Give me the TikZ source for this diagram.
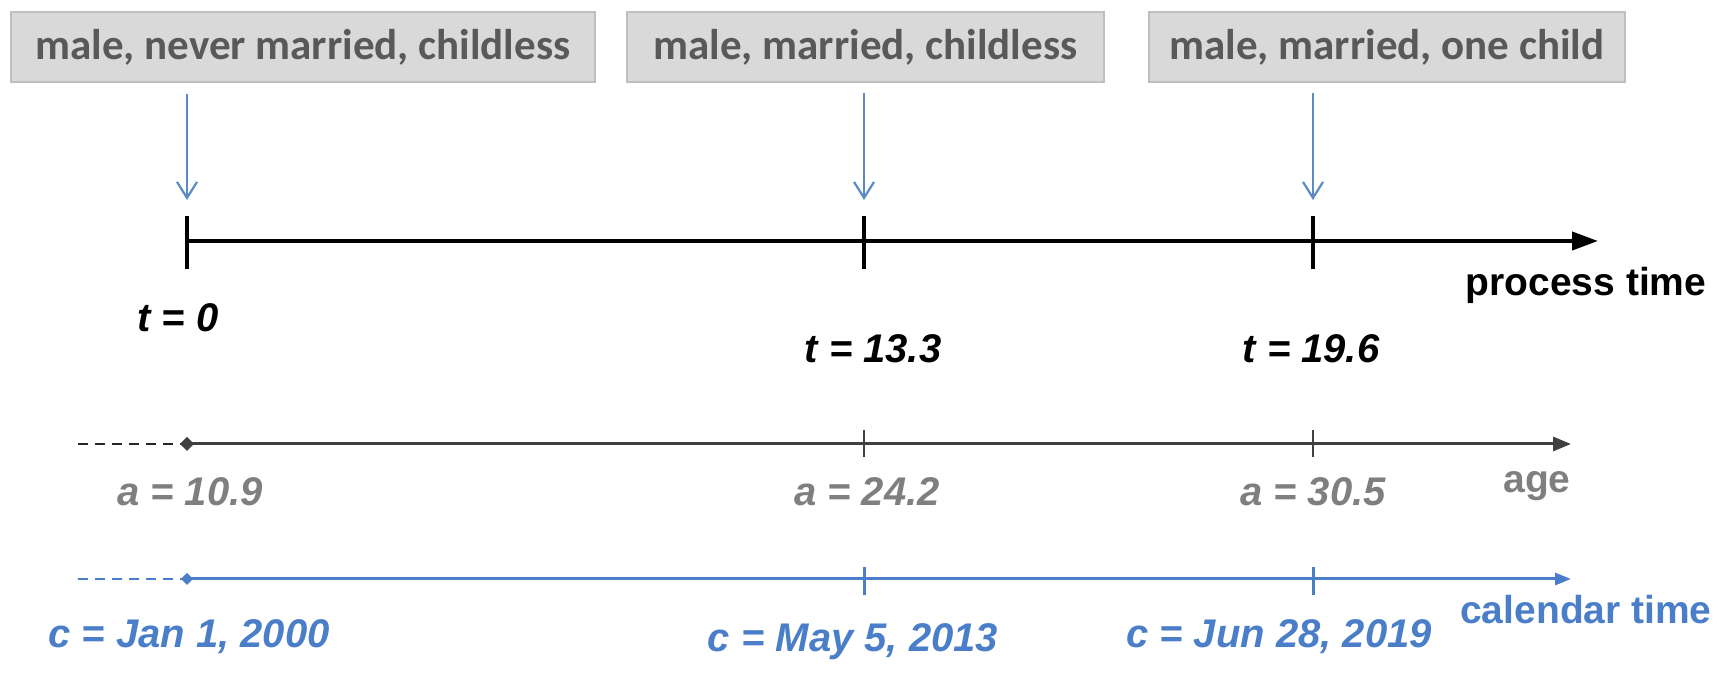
\documentclass[tikz,border=0pt]{standalone}
\usepackage{fontspec}
\setmainfont{Liberation Sans}
\newfontfamily\boxfont{Carlito}
\usetikzlibrary{arrows.meta}
\definecolor{boxfill}{HTML}{D9D9D9}
\definecolor{boxline}{HTML}{BFBFBF}
\definecolor{boxtext}{HTML}{595959}
\definecolor{evblue}{HTML}{5B8BC4}
\definecolor{calblue}{HTML}{4A7EC8}
\definecolor{agegray}{HTML}{404040}
\definecolor{labgray}{HTML}{7F7F7F}
\begin{document}
\begin{tikzpicture}[x=0.5pt,y=-0.5pt,
  statebox/.style={draw=boxline, line width=1pt, fill=boxfill, minimum height=35pt, inner sep=0pt,
    font=\boxfont\bfseries\fontsize{21.5}{24}\selectfont, text=boxtext},
  evarrow/.style={draw=evblue, line width=1.1pt, -{Straight Barb[length=8pt,width=10pt,line width=1.1pt]}},
  procline/.style={draw=black, line width=2pt, -{Triangle[length=13pt,width=9pt]}},
  proctick/.style={draw=black, line width=2pt},
  ageline/.style={draw=agegray, line width=1.5pt, -{Triangle[length=9pt,width=7pt]}},
  agetick/.style={draw=agegray, line width=1pt},
  agedash/.style={draw=black!85, line width=1pt, dash pattern=on 5pt off 3.5pt},
  calline/.style={draw=calblue, line width=1.5pt, -{Triangle[length=8pt,width=6pt]}},
  caltick/.style={draw=calblue, line width=1.5pt},
  caldash/.style={draw=calblue, line width=1pt, dash pattern=on 5pt off 3.5pt},
  tlab/.style={font=\bfseries\itshape\fontsize{20}{24}\selectfont, text=black, inner sep=0pt},
  alab/.style={font=\bfseries\itshape\fontsize{20}{24}\selectfont, text=labgray, inner sep=0pt},
  clab/.style={font=\bfseries\itshape\fontsize{20}{24}\selectfont, text=calblue, inner sep=0pt},
  axname/.style={font=\bfseries\fontsize{19.5}{24}\selectfont, inner sep=0pt}
]
\useasboundingbox (0,0) rectangle (1721,689);

% state boxes
\node[statebox, minimum width=292pt] (b1) at (303,47) {male, never married, childless};
\node[statebox, minimum width=238.5pt] (b2) at (865.5,47.5) {male, married, childless};
\node[statebox, minimum width=238pt] (b3) at (1387,47.5) {male, married, one child};

% process time axis
\coordinate (P0) at (187,241);
\coordinate (P1) at (864,241);
\coordinate (P2) at (1313,241);
\coordinate (Pend) at (1598,241);
\draw[procline] (P0) -- (Pend);
\foreach \p in {P0,P1,P2} {\draw[proctick] ([yshift=12.5pt]\p) -- ([yshift=-14pt]\p);}

% event arrows
\draw[evarrow] ([yshift=-5.5pt]b1.south -| P0) -- ([yshift=20.5pt]P0);
\draw[evarrow] ([yshift=-5pt]b2.south -| P1) -- ([yshift=20.5pt]P1);
\draw[evarrow] ([yshift=-5pt]b3.south -| P2) -- ([yshift=20.5pt]P2);

\node[axname, text=black] (pt) at (1586,285) {process time};
\node[tlab] (t0) at (178,318) {t = 0};
\node[tlab] (t1) at (873,349) {t = 13.3};
\node[tlab] (t2) at (1311,349) {t = 19.6};

% age axis
\coordinate (A-1) at (78,444);
\coordinate (A0) at (187,444);
\coordinate (A1) at (864,444);
\coordinate (A2) at (1313,444);
\coordinate (Aend) at (1571,444);
\draw[agedash] (A-1) -- (A0);
\draw[ageline] (A0) -- (Aend);
\fill[agegray] (A0) ++(-7,0) -- ++(7,-7) -- ++(7,7) -- ++(-7,7) -- cycle;
\foreach \p in {A1,A2} {\draw[agetick] ([yshift=7pt]\p) -- ([yshift=-6.5pt]\p);}
\node[axname, text=labgray] (ag) at (1537,486) {age};
\node[alab] (a0) at (190,492) {a  = 10.9};
\node[alab] (a1) at (867,492) {a  = 24.2};
\node[alab] (a2) at (1313,492) {a  = 30.5};

% calendar axis
\coordinate (C-1) at (78,579);
\coordinate (C0) at (187,579);
\coordinate (C1) at (864,579);
\coordinate (C2) at (1313,579);
\coordinate (Cend) at (1571,579);
\draw[caldash] (C-1) -- (C0);
\draw[calline] (C0) -- (Cend);
\fill[calblue] (C0) ++(-6,0) -- ++(6,-6) -- ++(6,6) -- ++(-6,6) -- cycle;
\foreach \p in {C1,C2} {\draw[caltick] ([yshift=6pt]\p) -- ([yshift=-8pt]\p);}
\node[axname, text=calblue] (ct) at (1586,610) {calendar time};
\node[clab] (c0) at (189,637) {c = Jan 1, 2000};
\node[clab] (c1) at (853,642) {c = May 5, 2013};
\node[clab] (c2) at (1279,637) {c = Jun 28, 2019};
\end{tikzpicture}
\end{document}
